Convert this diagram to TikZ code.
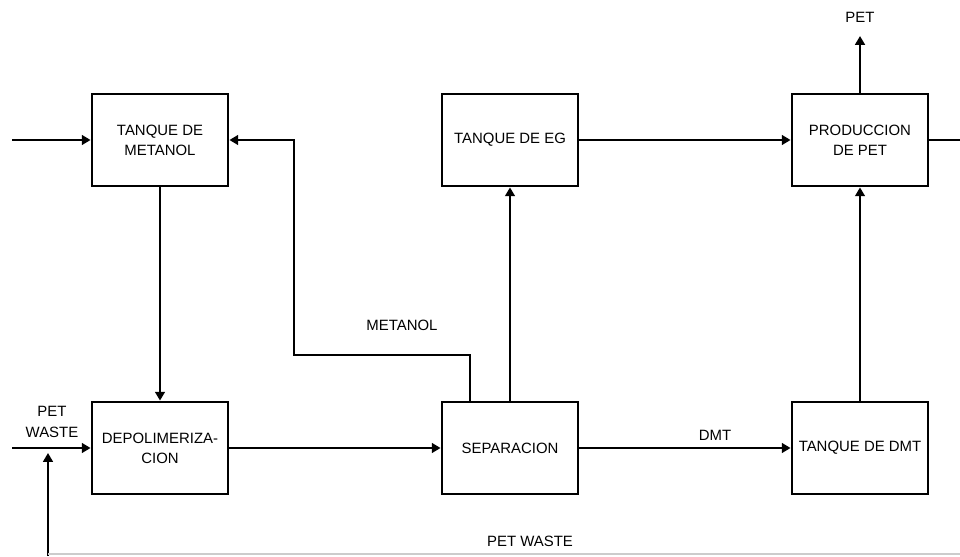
\documentclass[tikz,border=0pt]{standalone}
\usepackage{fontspec}
\setmainfont{Liberation Sans}
\usepackage{tikz}
\usetikzlibrary{arrows.meta, positioning, calc}

\begin{document}
\begin{tikzpicture}[x=0.02cm, y=-0.02cm,
    every node/.style={font=\fontsize{8.5}{11.5}\selectfont},
    box/.style={draw, line width=1.6pt, minimum width=2.72cm, minimum height=1.84cm, align=center, inner sep=1pt},
    flow/.style={line width=1.6pt, -{Triangle[length=5pt, width=5.5pt]}},
    pipe/.style={line width=1.6pt}]
    \useasboundingbox (0,0) rectangle (960,556);
    % bloques
    \node[box] (metanol) at (160,140) {TANQUE DE\\METANOL};
    \node[box] (depol) at (160,448) {DEPOLIMERIZA-\\CION};
    \node[box] (eg) at (510,140) {TANQUE DE EG};
    \node[box] (sep) at (510,448) {SEPARACION};
    \node[box] (prod) at (860,140) {PRODUCCION\\DE PET};
    \node[box] (dmt) at (860,448) {TANQUE DE DMT};
    % entradas y salidas
    \coordinate (inM) at (12,140);
    \coordinate (inW) at (12,448);
    \coordinate (recB) at (48,556);
    \coordinate (recT) at (48,453);
    \coordinate (petout) at (860,36);
    \coordinate (outR) at (960,140);
    \coordinate (mA) at (294,355);
    \draw[flow] (inM) -- (metanol);
    \draw[flow] (inW) -- (depol);
    \draw[flow] (recB) -- (recT);
    \draw[gray!40, line width=0.6pt] (48,554) -- (960,554);
    \draw[flow] (metanol) -- (depol);
    \draw[flow] (depol) -- (sep);
    \draw[flow] ($(sep.north)+(-40,0)$) |- (mA) |- (metanol.east);
    \draw[flow] (sep) -- (eg);
    \draw[flow] (eg) -- (prod);
    \draw[flow] (sep) -- (dmt);
    \draw[flow] (dmt) -- (prod);
    \draw[flow] (prod) -- (petout);
    \draw[pipe] (prod) -- (outR);
    % etiquetas
    \node[align=center] (wastelbl) at (52,422) {PET\\WASTE};
    \node (metlbl) at (402,325) {METANOL};
    \node (dmtlbl) at (715,435) {DMT};
    \node (petlbl) at (860,17) {PET};
    \node (reclbl) at (530,541) {PET WASTE};
\end{tikzpicture}
\end{document}
